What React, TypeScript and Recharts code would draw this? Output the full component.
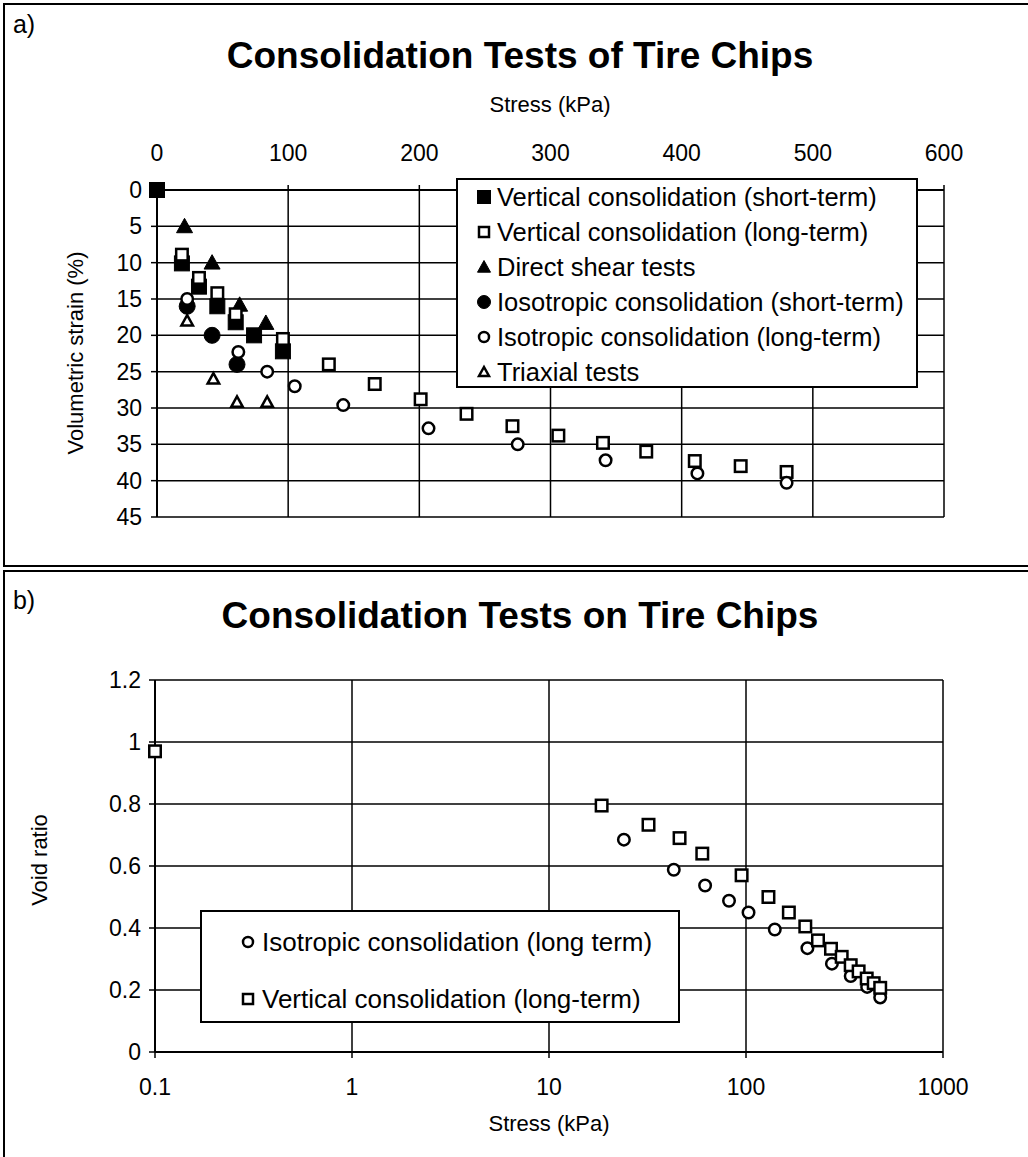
import React from "react";
import { CartesianGrid, Scatter, ScatterChart, XAxis, YAxis } from "recharts";

// (a) volumetric strain vs stress, linear stress axis on top
const vertShortStress = [0, 19, 32, 46, 60, 74, 96];
const vertShortStrain = [0, 10.1, 13.3, 16.0, 18.2, 20.0, 22.2];
const vertLongStress = [19, 32, 46, 60, 96, 131, 166, 201, 236, 271, 306, 340, 373, 410, 445, 480];
const vertLongStrain = [8.9, 12.1, 14.2, 17.1, 20.5, 24.0, 26.7, 28.8, 30.8, 32.5, 33.8, 34.8, 36.0, 37.3, 38.0, 38.8];
const shearStress = [21, 42, 63, 83];
const shearStrain = [5.0, 10.0, 15.8, 18.3];
const isoShortStress = [23, 42, 61];
const isoShortStrain = [16.0, 20.0, 24.0];
const isoLongStress = [23, 62, 84, 105, 142, 207, 275, 342, 412, 480];
const isoLongStrain = [15.0, 22.3, 25.0, 27.0, 29.6, 32.8, 35.0, 37.2, 39.0, 40.3];
const triaxStress = [23, 43, 61, 84];
const triaxStrain = [18.0, 26.0, 29.2, 29.2];
const stressTicksA = [0, 100, 200, 300, 400, 500, 600];
const strainTicks = [0, 5, 10, 15, 20, 25, 30, 35, 40, 45];

// (b) void ratio vs stress, log stress axis
const vertStressB = [0.1, 18.5, 32, 46, 60, 95, 130, 165, 200, 232, 270, 306, 340, 373, 410, 445, 480];
const vertVoidB = [0.97, 0.795, 0.733, 0.69, 0.64, 0.57, 0.5, 0.45, 0.405, 0.36, 0.333, 0.307, 0.28, 0.26, 0.237, 0.222, 0.207];
const isoStressB = [24, 43, 62, 82, 103, 140, 205, 273, 340, 412, 480];
const isoVoidB = [0.685, 0.588, 0.537, 0.488, 0.45, 0.395, 0.335, 0.285, 0.245, 0.21, 0.176];
const stressTicksB = [0.1, 1, 10, 100, 1000];
const voidTicks = [0, 0.2, 0.4, 0.6, 0.8, 1, 1.2];

const FONT = '"Liberation Sans", Arial, Helvetica, sans-serif';

type Kind = "square" | "circle" | "triangle";

const zip = (xs: number[], ys: number[]) => xs.map((x, i) => ({ x, y: ys[i] }));

function Glyph({ cx, cy, kind, filled, size }: { cx: number; cy: number; kind: Kind; filled: boolean; size: number }) {
  const h = size / 2;
  const fill = filled ? "#000" : "#fff";
  const sw = filled ? 1 : 2.5;
  if (kind === "square") {
    return <rect x={cx - h} y={cy - h} width={size} height={size} fill={fill} stroke="#000" strokeWidth={sw} />;
  }
  if (kind === "circle") {
    return <circle cx={cx} cy={cy} r={h} fill={fill} stroke="#000" strokeWidth={sw} />;
  }
  const pts = `${cx},${cy - h} ${cx + h},${cy + h * 0.8} ${cx - h},${cy + h * 0.8}`;
  return <polygon points={pts} fill={fill} stroke="#000" strokeWidth={sw} strokeLinejoin="miter" />;
}

const marker = (kind: Kind, filled: boolean, size: number) => (props: any) => {
  const { cx, cy } = props;
  if (cx == null || cy == null) return <g />;
  return <Glyph cx={cx} cy={cy} kind={kind} filled={filled} size={size} />;
};

function Text({ x, y, size, bold, rotate, children }: { x: number; y: number; size: number; bold?: boolean; rotate?: boolean; children: React.ReactNode }) {
  return (
    <div
      style={{
        position: "absolute",
        left: x,
        top: y,
        transform: `translate(-50%, -50%)${rotate ? " rotate(-90deg)" : ""}`,
        fontSize: size,
        fontWeight: bold ? 700 : 400,
        whiteSpace: "nowrap",
        lineHeight: 1,
      }}
    >
      {children}
    </div>
  );
}

type Entry = { name: string; kind: Kind; filled: boolean };

function LegendBox({ left, top, width, height, entries, markerX, textX, rowTops, fontSize }: {
  left: number; top: number; width: number; height: number; entries: Entry[]; markerX: number; textX: number; rowTops: number[]; fontSize: number;
}) {
  return (
    <div style={{ position: "absolute", left, top, width, height, border: "2px solid #000", background: "#fff", boxSizing: "border-box" }}>
      {entries.map((e, i) => (
        <div key={e.name} style={{ position: "absolute", left: 0, top: rowTops[i], height: 0 }}>
          <svg width={24} height={20} style={{ position: "absolute", left: markerX - 12, top: -10 }}>
            <Glyph cx={12} cy={10} kind={e.kind} filled={e.filled} size={e.filled ? 13 : 10} />
          </svg>
          <div style={{ position: "absolute", left: textX, top: -15, fontSize, lineHeight: "30px", whiteSpace: "nowrap" }}>{e.name}</div>
        </div>
      ))}
    </div>
  );
}

const legendA: Entry[] = [
  { name: "Vertical consolidation (short-term)", kind: "square", filled: true },
  { name: "Vertical consolidation (long-term)", kind: "square", filled: false },
  { name: "Direct shear tests", kind: "triangle", filled: true },
  { name: "Iosotropic consolidation (short-term)", kind: "circle", filled: true },
  { name: "Isotropic consolidation (long-term)", kind: "circle", filled: false },
  { name: "Triaxial tests", kind: "triangle", filled: false },
];

const legendB: Entry[] = [
  { name: "Isotropic consolidation (long term)", kind: "circle", filled: false },
  { name: "Vertical consolidation (long-term)", kind: "square", filled: false },
];

const tickStyle = { fill: "#000", fontSize: 23, fontFamily: FONT };
const axisLine = { stroke: "#000", strokeWidth: 2 };
const tickLine = { stroke: "#000", strokeWidth: 1.5 };

function PanelA() {
  return (
    <ScatterChart width={1028} height={570} margin={{ top: 150, right: 84, bottom: 53, left: 97 }}>
      <CartesianGrid stroke="#000" strokeWidth={1.5} />
      <XAxis
        type="number"
        dataKey="x"
        orientation="top"
        domain={[0, 600]}
        ticks={stressTicksA}
        height={40}
        tickSize={5}
        tickMargin={24}
        tick={tickStyle}
        axisLine={axisLine}
        tickLine={tickLine}
      />
      <YAxis
        type="number"
        dataKey="y"
        reversed
        domain={[0, 45]}
        ticks={strainTicks}
        width={60}
        tickSize={6}
        tickMargin={9}
        tick={tickStyle}
        axisLine={axisLine}
        tickLine={tickLine}
      />
      <Scatter data={zip(vertShortStress, vertShortStrain)} shape={marker("square", true, 15)} isAnimationActive={false} />
      <Scatter data={zip(isoShortStress, isoShortStrain)} shape={marker("circle", true, 16)} isAnimationActive={false} />
      <Scatter data={zip(shearStress, shearStrain)} shape={marker("triangle", true, 16)} isAnimationActive={false} />
      <Scatter data={zip(triaxStress, triaxStrain)} shape={marker("triangle", false, 11.5)} isAnimationActive={false} />
      <Scatter data={zip(vertLongStress, vertLongStrain)} shape={marker("square", false, 11.5)} isAnimationActive={false} />
      <Scatter data={zip(isoLongStress, isoLongStrain)} shape={marker("circle", false, 11.5)} isAnimationActive={false} />
    </ScatterChart>
  );
}

function PanelB() {
  return (
    <ScatterChart width={1028} height={589} margin={{ top: 112, right: 85, bottom: 45, left: 95 }}>
      <CartesianGrid stroke="#000" strokeWidth={1.5} />
      <XAxis
        type="number"
        dataKey="x"
        scale="log"
        domain={[0.1, 1000]}
        ticks={stressTicksB}
        tickFormatter={(v: number) => String(v)}
        height={60}
        tickSize={6}
        tickMargin={21}
        tick={tickStyle}
        axisLine={axisLine}
        tickLine={tickLine}
      />
      <YAxis
        type="number"
        dataKey="y"
        domain={[0, 1.2]}
        ticks={voidTicks}
        tickFormatter={(v: number) => String(+v.toFixed(1))}
        width={60}
        tickSize={6}
        tickMargin={8}
        tick={tickStyle}
        axisLine={axisLine}
        tickLine={tickLine}
      />
      <Scatter data={zip(isoStressB, isoVoidB)} shape={marker("circle", false, 11.5)} isAnimationActive={false} />
      <Scatter data={zip(vertStressB, vertVoidB)} shape={marker("square", false, 11.5)} isAnimationActive={false} />
    </ScatterChart>
  );
}

export default function App() {
  return (
    <div style={{ position: "absolute", left: 0, top: 0, width: 1028, height: 1157, overflow: "hidden", background: "#fff", color: "#000", fontFamily: FONT }}>
      {/* panel frames */}
      <div style={{ position: "absolute", left: 3, top: 3, width: 1040, height: 564, border: "2px solid #000", boxSizing: "border-box" }} />
      <div style={{ position: "absolute", left: 3, top: 570, width: 1040, height: 600, border: "2px solid #000", boxSizing: "border-box" }} />

      <div style={{ position: "absolute", left: 0, top: 0 }}>
        <PanelA />
      </div>
      <div style={{ position: "absolute", left: 0, top: 568 }}>
        <PanelB />
      </div>

      <Text x={24} y={24} size={25}>a)</Text>
      <Text x={520} y={55} size={37} bold>Consolidation Tests of Tire Chips</Text>
      <Text x={550} y={105} size={22}>Stress (kPa)</Text>
      <Text x={76} y={353} size={22} rotate>Volumetric strain (%)</Text>
      <LegendBox left={456} top={178} width={462} height={210} entries={legendA} markerX={26} textX={39} rowTops={[17, 52, 87, 122, 157, 192]} fontSize={25.5} />

      <Text x={24} y={600} size={25}>b)</Text>
      <Text x={520} y={615} size={37} bold>Consolidation Tests on Tire Chips</Text>
      <Text x={549} y={1124} size={22}>Stress (kPa)</Text>
      <Text x={40} y={860} size={22} rotate>Void ratio</Text>
      <LegendBox left={200} top={910} width={480} height={113} entries={legendB} markerX={46} textX={60} rowTops={[30, 87]} fontSize={26} />
    </div>
  );
}
